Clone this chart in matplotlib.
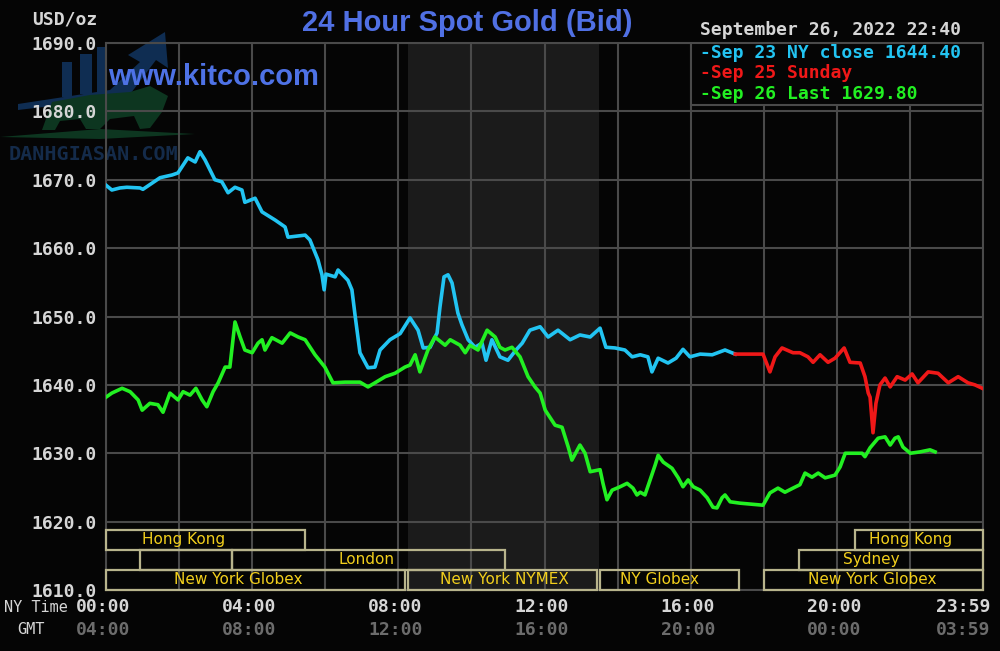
import matplotlib.pyplot as plt
from matplotlib.patches import Rectangle, Polygon

# hours of NY time (0..24) and bid price in USD/oz
sep23_hours = [0, 0.16, 0.38, 0.57, 0.93, 1.01, 1.48, 1.81, 1.97, 2.24,
               2.44, 2.57, 2.71, 2.98, 3.17, 3.34, 3.53, 3.72, 3.80, 4.08,
               4.27, 4.63, 4.90, 4.98, 5.45, 5.58, 5.80, 5.91, 5.97, 6.02,
               6.27, 6.35, 6.62, 6.73, 6.82, 6.95, 7.17, 7.36, 7.50, 7.77,
               8.05, 8.32, 8.54, 8.68, 8.87, 9.06, 9.14, 9.25, 9.36, 9.47,
               9.63, 9.74, 9.91, 10.10, 10.29, 10.40, 10.56, 10.78, 11.00, 11.22,
               11.39, 11.60, 11.88, 12.10, 12.37, 12.70, 12.97, 13.25, 13.52, 13.68,
               13.93, 14.20, 14.40, 14.62, 14.83, 14.94, 15.11, 15.38, 15.60, 15.79,
               15.98, 16.26, 16.59, 16.94, 17.22]
sep23_price = [1669.2, 1668.5, 1668.8, 1668.9, 1668.8, 1668.6, 1670.3, 1670.7, 1671.0, 1673.2,
               1672.6, 1674.1, 1672.9, 1670.0, 1669.7, 1668.1, 1668.9, 1668.5, 1666.7, 1667.3,
               1665.3, 1664.1, 1663.1, 1661.6, 1661.9, 1661.2, 1658.3, 1656.1, 1653.9, 1656.2,
               1655.8, 1656.8, 1655.3, 1653.9, 1650.0, 1644.7, 1642.5, 1642.6, 1645.1, 1646.6,
               1647.5, 1649.8, 1648.0, 1645.4, 1645.5, 1647.6, 1651.4, 1655.8, 1656.1, 1654.9,
               1650.5, 1648.8, 1646.6, 1645.5, 1646.1, 1643.6, 1646.6, 1644.1, 1643.6, 1645.1,
               1646.1, 1648.0, 1648.5, 1647.0, 1648.0, 1646.6, 1647.3, 1647.0, 1648.3, 1645.5,
               1645.4, 1645.1, 1644.1, 1644.4, 1644.1, 1641.9, 1643.9, 1643.2, 1643.9, 1645.2,
               1644.1, 1644.5, 1644.4, 1645.1, 1644.5]

sep25_hours = [17.22, 17.98, 18.17, 18.31, 18.50, 18.80, 18.99, 19.21, 19.35, 19.54,
               19.76, 19.95, 20.20, 20.36, 20.64, 20.77, 20.86, 20.91, 20.99, 21.07,
               21.18, 21.32, 21.46, 21.65, 21.87, 22.06, 22.22, 22.50, 22.77, 23.05,
               23.32, 23.59, 23.78, 23.98]
sep25_price = [1644.5, 1644.5, 1641.9, 1644.1, 1645.4, 1644.7, 1644.7, 1644.1, 1643.3, 1644.4,
               1643.3, 1643.9, 1645.4, 1643.3, 1643.2, 1641.2, 1638.8, 1638.2, 1633.0, 1637.3,
               1640.0, 1641.0, 1639.7, 1641.2, 1640.7, 1641.6, 1640.3, 1641.9, 1641.7, 1640.3,
               1641.2, 1640.3, 1640.0, 1639.5]

sep26_hours = [0, 0.16, 0.44, 0.66, 0.88, 0.99, 1.20, 1.42, 1.56, 1.75,
               1.97, 2.11, 2.30, 2.46, 2.63, 2.76, 2.93, 3.07, 3.26, 3.39,
               3.53, 3.67, 3.80, 4.00, 4.16, 4.27, 4.35, 4.54, 4.82, 5.04,
               5.26, 5.45, 5.72, 5.99, 6.21, 6.54, 6.95, 7.17, 7.36, 7.64,
               7.91, 8.18, 8.32, 8.46, 8.59, 8.81, 9.00, 9.28, 9.42, 9.69,
               9.83, 9.96, 10.18, 10.43, 10.65, 10.78, 10.92, 11.11, 11.33, 11.55,
               11.74, 11.88, 12.02, 12.29, 12.48, 12.65, 12.75, 12.97, 13.11, 13.25,
               13.52, 13.60, 13.71, 13.85, 14.07, 14.26, 14.42, 14.53, 14.62, 14.75,
               14.89, 15.03, 15.11, 15.25, 15.49, 15.66, 15.79, 15.93, 16.07, 16.26,
               16.45, 16.61, 16.72, 16.86, 16.94, 17.08, 17.35, 17.98, 18.17, 18.39,
               18.58, 18.80, 18.99, 19.13, 19.32, 19.49, 19.68, 19.95, 20.09, 20.23,
               20.50, 20.69, 20.77, 20.91, 21.13, 21.32, 21.46, 21.59, 21.68, 21.81,
               22.01, 22.28, 22.55, 22.69]
sep26_price = [1638.2, 1638.8, 1639.5, 1639.0, 1637.8, 1636.3, 1637.3, 1637.1, 1636.0, 1638.8,
               1637.8, 1639.0, 1638.5, 1639.5, 1637.8, 1636.8, 1639.0, 1640.3, 1642.6, 1642.6,
               1649.2, 1647.0, 1645.1, 1644.7, 1646.1, 1646.6, 1645.1, 1646.9, 1646.1, 1647.6,
               1647.0, 1646.6, 1644.4, 1642.6, 1640.3, 1640.4, 1640.4, 1639.7, 1640.3, 1641.2,
               1641.7, 1642.6, 1642.9, 1644.4, 1641.9, 1645.1, 1647.0, 1645.8, 1646.6, 1645.8,
               1644.7, 1645.8, 1645.1, 1648.0, 1647.0, 1645.5, 1645.1, 1645.5, 1644.1, 1641.2,
               1639.7, 1638.8, 1636.3, 1634.1, 1633.8, 1630.9, 1629.0, 1631.2, 1630.0, 1627.3,
               1627.6, 1625.6, 1623.2, 1624.6, 1625.1, 1625.6, 1624.9, 1623.9, 1624.3, 1623.9,
               1626.1, 1628.3, 1629.7, 1628.7, 1627.8, 1626.4, 1625.1, 1626.1, 1625.1, 1624.6,
               1623.5, 1622.1, 1622.0, 1623.5, 1623.9, 1622.9, 1622.7, 1622.4, 1624.2, 1624.9,
               1624.3, 1624.9, 1625.4, 1627.1, 1626.5, 1627.1, 1626.4, 1626.8, 1628.0, 1630.0,
               1630.0, 1630.0, 1629.5, 1630.8, 1632.2, 1632.4, 1631.2, 1632.2, 1632.4, 1630.9,
               1630.0, 1630.2, 1630.5, 1630.2]

# trading sessions: name, start hour, end hour, row (0 = top), label x
session_names = ["Hong Kong", "", "London", "New York Globex", "New York NYMEX",
                 "NY Globex", "New York Globex", "Sydney", "Hong Kong"]
session_start = [0, 0.93, 3.45, 0, 8.27, 13.53, 18.0, 18.97, 20.5]
session_end = [5.45, 3.45, 10.93, 8.17, 13.45, 17.33, 24, 24, 24]
session_row = [0, 1, 1, 2, 2, 2, 2, 1, 0]
session_label_x = [2.11, 0, 7.14, 3.61, 10.89, 15.16, 20.96, 20.94, 22.03]

y_ticks = [1610, 1620, 1630, 1640, 1650, 1660, 1670, 1680, 1690]
ny_labels = ["00:00", "04:00", "08:00", "12:00", "16:00", "20:00", "23:59"]
gmt_labels = ["04:00", "08:00", "12:00", "16:00", "20:00", "00:00", "03:59"]
label_hours = [-0.08, 3.92, 7.92, 11.92, 15.92, 19.92, 23.45]

legend_lines = ["-Sep 23 NY close 1644.40", "-Sep 25 Sunday", "-Sep 26 Last 1629.80"]

CYAN = "#22c4f2"
RED = "#f01818"
GREEN = "#22f022"
GRID = "#4a4a4a"
TAN = "#b8b48c"
MONO = "DejaVu Sans Mono"

fig = plt.figure(figsize=(10, 6.51), dpi=100, facecolor="#050505")

# watermark underneath, in pixel coordinates
wm = fig.add_axes([0, 0, 1, 1], zorder=-1)
wm.set_xlim(0, 1000)
wm.set_ylim(651, 0)
wm.axis("off")
wm.patch.set_visible(False)
navy = "#0f2d52"
wm.add_patch(Polygon([(18, 104), (110, 90), (140, 62), (128, 55), (165, 32),
                      (168, 68), (156, 60), (128, 97), (18, 110)],
                     color=navy, lw=0))
wm.add_patch(Rectangle((62, 62), 10, 35, color=navy, lw=0))
wm.add_patch(Rectangle((80, 54), 12, 40, color=navy, lw=0))
wm.add_patch(Rectangle((97, 47), 10, 45, color=navy, lw=0))
wm.add_patch(Polygon([(0, 137), (100, 129), (195, 134), (100, 139)],
                     color="#0d3620", lw=0))
wm.add_patch(Polygon([(42, 130), (52, 102), (90, 95), (130, 92), (150, 86),
                      (168, 96), (162, 112), (150, 128), (140, 129), (134, 116),
                      (110, 119), (100, 129), (86, 129), (80, 119), (60, 121),
                      (55, 130)], color="#0d3620", lw=0))
wm.text(94, 155, "DANHGIASAN.COM", color="#142b4a", fontsize=14.5,
        fontfamily=MONO, fontweight="bold", ha="center", va="center")

ax = fig.add_axes([0.106, 1 - 590 / 651, 0.877, 547 / 651])
ax.patch.set_visible(False)
ax.set_xlim(0, 24)
ax.set_ylim(1610, 1690)

# NYMEX pit hours shading
ax.axvspan(8.27, 13.5, color="#1b1b1b", zorder=0.5, lw=0)

ax.set_xticks(range(0, 25, 2))
ax.set_xticklabels([])
ax.set_yticks(y_ticks)
ax.set_yticklabels([f"{v:.1f}" for v in y_ticks], fontfamily=MONO,
                   fontweight="bold", fontsize=13, color="#d6d6d6")
ax.tick_params(length=0, pad=6.5)
ax.grid(True, color=GRID, lw=1.5, zorder=1)
ax.set_axisbelow(True)
for s in ax.spines.values():
    s.set_color(GRID)
    s.set_linewidth(1.5)

ax.plot(sep23_hours, sep23_price, color=CYAN, lw=2.6, zorder=4)
ax.plot(sep25_hours, sep25_price, color=RED, lw=2.6, zorder=4)
ax.plot(sep26_hours, sep26_price, color=GREEN, lw=2.6, zorder=5)

# session boxes at the bottom
row_h = 2.93
for name, x0, x1, row, lx in zip(session_names, session_start, session_end,
                                 session_row, session_label_x):
    y0 = 1610.05 + (2 - row) * row_h
    ax.add_patch(Rectangle((x0, y0), x1 - x0, row_h, fill=False,
                           edgecolor=TAN, lw=1.6, zorder=3, clip_on=False))
    if name:
        ax.text(lx, y0 + row_h / 2, name, ha="center", va="center",
                color="#f2cf1c", fontsize=11, fontfamily="DejaVu Sans",
                zorder=6)

# legend box
ax.add_patch(Rectangle((16.0, 1680.95), 8, 9.05, facecolor="#050505",
                       edgecolor=GRID, lw=1.5, zorder=6))
for i, (txt, c) in enumerate(zip(legend_lines, [CYAN, RED, GREEN])):
    fig.text(0.700, 1 - (53 + i * 20.5) / 651, txt, color=c, fontsize=13,
             fontfamily=MONO, fontweight="bold", va="center", ha="left")

# x axis labels (NY time and GMT)
for h, ny, gmt in zip(label_hours, ny_labels, gmt_labels):
    xf = (106 + h * 36.54) / 1000
    fig.text(xf, 1 - 607 / 651, ny, color="#d6d6d6", fontsize=13,
             fontfamily=MONO, fontweight="bold", ha="center", va="center")
    fig.text(xf, 1 - 630 / 651, gmt, color="#6c6c6c", fontsize=13,
             fontfamily=MONO, fontweight="bold", ha="center", va="center")
fig.text(0.004, 1 - 607 / 651, "NY Time", color="#d6d6d6", fontsize=11,
         fontfamily=MONO, ha="left", va="center")
fig.text(0.017, 1 - 630 / 651, "GMT", color="#d6d6d6", fontsize=11,
         fontfamily=MONO, ha="left", va="center")

fig.text(0.097, 1 - 19 / 651, "USD/oz", color="#d6d6d6", fontsize=13,
         fontfamily=MONO, fontweight="bold", ha="right", va="center")
fig.text(0.700, 1 - 30 / 651, "September 26, 2022 22:40", color="#d6d6d6",
         fontsize=13, fontfamily=MONO, fontweight="bold", ha="left", va="center")
fig.text(0.4675, 1 - 23 / 651, "24 Hour Spot Gold (Bid)", color="#5070e4",
         fontsize=21, fontfamily="Liberation Sans", fontweight="bold",
         ha="center", va="center")
fig.text(0.108, 1 - 77 / 651, "www.kitco.com", color="#4e72e6", fontsize=21,
         fontfamily="Liberation Sans", fontweight="bold", ha="left",
         va="center")

fig.savefig("out.png", dpi=100, facecolor=fig.get_facecolor())
